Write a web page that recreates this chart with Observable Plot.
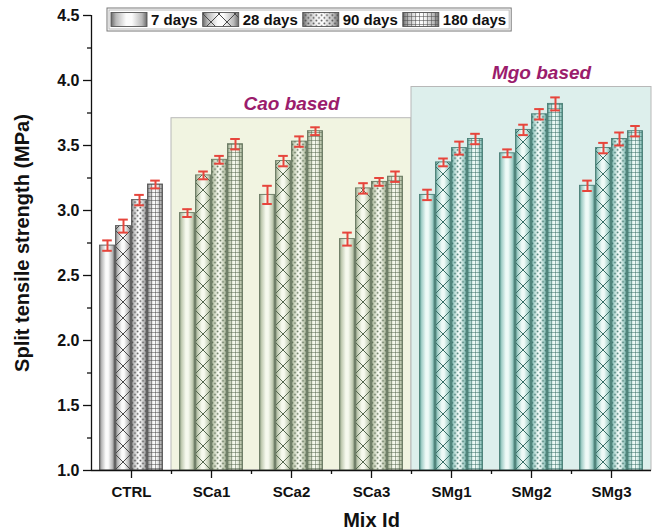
<!DOCTYPE html>
<html><head><meta charset="utf-8">
<script src="https://cdn.jsdelivr.net/npm/d3@7"></script>
<script src="https://cdn.jsdelivr.net/npm/@observablehq/plot@0.6"></script>
<style>body{margin:0;background:#fff}</style>
</head><body><div id="chart"></div>
<script>
// ---- data ----
const mixes = ["CTRL","SCa1","SCa2","SCa3","SMg1","SMg2","SMg3"];
const mixFamily = ["ctrl","cao","cao","cao","mgo","mgo","mgo"];
const ages = ["7 days","28 days","90 days","180 days"];
const day7   = [2.73,2.98,3.12,2.78,3.12,3.44,3.19];
const day28  = [2.88,3.27,3.38,3.17,3.37,3.62,3.48];
const day90  = [3.08,3.39,3.53,3.22,3.48,3.74,3.55];
const day180 = [3.20,3.51,3.61,3.26,3.55,3.82,3.61];
const err7   = [0.04,0.03,0.07,0.05,0.04,0.03,0.04];
const err28  = [0.05,0.03,0.04,0.04,0.03,0.04,0.04];
const err90  = [0.04,0.03,0.04,0.03,0.05,0.04,0.05];
const err180 = [0.03,0.04,0.03,0.04,0.04,0.05,0.04];
const groupLabels = ["Cao based","Mgo based"];
const groupFamily = ["cao","mgo"];
const groupTop = [3.71,3.95];
const yTicks = [1.0,1.5,2.0,2.5,3.0,3.5,4.0,4.5];
const yMinorTicks = [1.25,1.75,2.25,2.75,3.25,3.75,4.25];
const yLabel = "Split tensile strength (MPa)";
const xLabel = "Mix Id";

// ---- build tables ----
const values = [day7,day28,day90,day180];
const errs = [err7,err28,err90,err180];
const rows = [];
mixes.forEach((m,i)=>ages.forEach((a,k)=>rows.push({mix:m,i,age:a,k,family:mixFamily[i],value:values[k][i],err:errs[k][i]})));
const groups = groupLabels.map((label,g)=>{
  const idx = mixFamily.map((f,i)=>f===groupFamily[g]?i:-1).filter(i=>i>=0);
  return {label, family:groupFamily[g], lo:idx[0]+1, hi:idx[idx.length-1]+1, top:groupTop[g]};
});

// ---- styles ----
const FONT = "Liberation Sans, Arial, Helvetica, sans-serif";
const fam = {
  ctrl:{edge:"#6a6a6a", mid:"#b9b9b9", center:"#fbfbfb", ink:"#4a4a4a", out:"#5a5a5a"},
  cao: {edge:"#7c8c74", mid:"#c2ccb3", center:"#f6f9ee", ink:"#56684f", out:"#6a7a63"},
  mgo: {edge:"#4c8a81", mid:"#a3cfc8", center:"#effaf7", ink:"#3a6f67", out:"#4a7f77"}
};
const groupFill = {cao:"#f1f4e1", mgo:"#ddefec"};
const labelShift = {cao:0, mgo:10};
const RED = "#e6453c";
const BW = 0.2;
const barX1 = d => d.i + 1 - 2*BW + d.k*BW;
const barX2 = d => barX1(d) + BW;
const barC  = d => barX1(d) + BW/2;
const CAP = 0.06;

const svg = Plot.plot({
  width: 652, height: 531,
  marginLeft: 91, marginRight: 1, marginTop: 15, marginBottom: 61,
  x: {domain:[0.5,7.5], label:null},
  y: {domain:[1,4.5], label:null},
  color: {type:"identity"},
  style: {fontFamily: FONT, fontSize:"15px", fontWeight:"bold", color:"#111", background:"#fff"},
  marks: [
    Plot.rect(groups, {x1:d=>d.lo-0.5, x2:d=>d.hi+0.5, y1:()=>1, y2:"top", fill:d=>groupFill[d.family], stroke:"#b8b8b8", strokeWidth:1}),
    ...groups.map(g => Plot.text([g], {x:d=>(d.lo+d.hi)/2, y:d=>d.top+0.11, text:"label", fill:"#9b1c6c", fontSize:19, fontStyle:"italic", fontWeight:"bold", dx: labelShift[g.family]})),
    Plot.rect(rows, {x1:barX1, x2:barX2, y1:()=>1, y2:"value", fill:d=>`url(#grad-${d.family})`, insetLeft:0.5, insetRight:0.5}),
    Plot.rect(rows.filter(d=>d.k>0), {x1:barX1, x2:barX2, y1:()=>1, y2:"value", fill:d=>`url(#pat-${d.family}-${d.k})`, insetLeft:0.5, insetRight:0.5}),
    Plot.rect(rows, {x1:barX1, x2:barX2, y1:()=>1, y2:"value", fill:"none", stroke:d=>fam[d.family].out, strokeWidth:0.9, insetLeft:0.5, insetRight:0.5}),
    Plot.ruleX(rows, {x:barC, y1:d=>d.value-d.err, y2:d=>d.value+d.err, stroke:RED, strokeWidth:2}),
    Plot.ruleY(rows, {y:d=>d.value+d.err, x1:d=>barC(d)-CAP, x2:d=>barC(d)+CAP, stroke:RED, strokeWidth:2}),
    Plot.ruleY(rows, {y:d=>d.value-d.err, x1:d=>barC(d)-CAP, x2:d=>barC(d)+CAP, stroke:RED, strokeWidth:2}),
    Plot.axisX({ticks:d3.range(1,8), tickFormat:i=>mixes[i-1], tickSize:8, tickPadding:8, label:null, fontSize:15, fontWeight:"bold", strokeWidth:1.3}),
    Plot.axisX({ticks:d3.range(1.5,7,1), tickSize:4, tickFormat:()=>"", label:null, strokeWidth:1.3}),
    Plot.axisY({ticks:yTicks, tickFormat:d3.format(".1f"), tickSize:8, tickPadding:4, label:null, fontSize:16, fontWeight:"bold", strokeWidth:1.3}),
    Plot.axisY({ticks:yMinorTicks, tickSize:4, tickFormat:()=>"", label:null, strokeWidth:1.3}),
    Plot.ruleX([0.5], {stroke:"#111", strokeWidth:1.3}),
    Plot.ruleY([1], {stroke:"#111", strokeWidth:1.3}),
    Plot.text([yLabel], {frameAnchor:"left", rotate:-90, dx:-69, text:d=>d, textAnchor:"middle", lineAnchor:"middle", fontSize:20, fontWeight:"bold", fill:"#111"}),
    Plot.text([xLabel], {frameAnchor:"bottom", dy:50, text:d=>d, textAnchor:"middle", lineAnchor:"middle", fontSize:20, fontWeight:"bold", fill:"#111"})
  ]
});
document.getElementById("chart").appendChild(svg);

// ---- defs: gradients & patterns ----
const xs = svg.scale("x"), ys = svg.scale("y");
const px = v => xs.apply(v);
const tile = px(1) - px(1-BW);
const defs = d3.select(svg).insert("defs", ":first-child");
for (const [f,c] of Object.entries(fam)) {
  const g = defs.append("linearGradient").attr("id",`grad-${f}`).attr("x1",0).attr("x2",1).attr("y1",0).attr("y2",0);
  [[0,c.edge],[0.14,c.mid],[0.42,c.center],[0.58,c.center],[0.86,c.mid],[1,c.edge]].forEach(([o,col])=>g.append("stop").attr("offset",o).attr("stop-color",col));
  const p1 = defs.append("pattern").attr("id",`pat-${f}-1`).attr("patternUnits","userSpaceOnUse")
    .attr("x",px(1-BW)).attr("y",ys.apply(1)).attr("width",tile).attr("height",tile);
  p1.append("path").attr("d",`M0,0L${tile},${tile}M${tile},0L0,${tile}`).attr("stroke",c.ink).attr("stroke-width",1).attr("fill","none");
  const dw = tile/3, dh = 5.5;
  const p2 = defs.append("pattern").attr("id",`pat-${f}-2`).attr("patternUnits","userSpaceOnUse")
    .attr("x",px(1)).attr("y",0).attr("width",dw).attr("height",dh);
  p2.append("circle").attr("cx",dw/4).attr("cy",dh/4).attr("r",0.9).attr("fill",c.ink);
  p2.append("circle").attr("cx",3*dw/4).attr("cy",3*dh/4).attr("r",0.9).attr("fill",c.ink);
  const gw = tile/4;
  const p3 = defs.append("pattern").attr("id",`pat-${f}-3`).attr("patternUnits","userSpaceOnUse")
    .attr("x",px(1+BW)).attr("y",0).attr("width",gw).attr("height",4);
  p3.append("path").attr("d",`M0,0.5H${gw}M0.5,0V4`).attr("stroke",c.ink).attr("stroke-width",0.7).attr("stroke-opacity",0.75).attr("fill","none");
}

// ---- legend ----
const lg = d3.select(svg).append("g").attr("font-family",FONT).attr("font-weight","bold").attr("font-size",15).attr("text-anchor","start");
const box = lg.append("rect").attr("x",107).attr("y",8).attr("height",23).attr("fill","#fff").attr("stroke","#777").attr("stroke-width",1);
const box2 = lg.append("rect").attr("x",109).attr("y",10).attr("height",19).attr("fill","none").attr("stroke","#bbb").attr("stroke-width",1);
let cx = 111;
ages.forEach((a,k)=>{
  lg.append("rect").attr("x",cx).attr("y",12.5).attr("width",36).attr("height",14).attr("fill","url(#grad-ctrl)");
  if (k>0) lg.append("rect").attr("x",cx).attr("y",12.5).attr("width",36).attr("height",14).attr("fill",`url(#pat-ctrl-${k})`);
  lg.append("rect").attr("x",cx).attr("y",12.5).attr("width",36).attr("height",14).attr("fill","none").attr("stroke","#555").attr("stroke-width",0.9);
  const t = lg.append("text").attr("x",cx+40).attr("y",19.5).attr("dy","0.35em").attr("fill","#111").text(a);
  cx = cx + 40 + t.node().getComputedTextLength() + 5;
});
box.attr("width", cx - 107);
box2.attr("width", cx - 111);
</script></body></html>
